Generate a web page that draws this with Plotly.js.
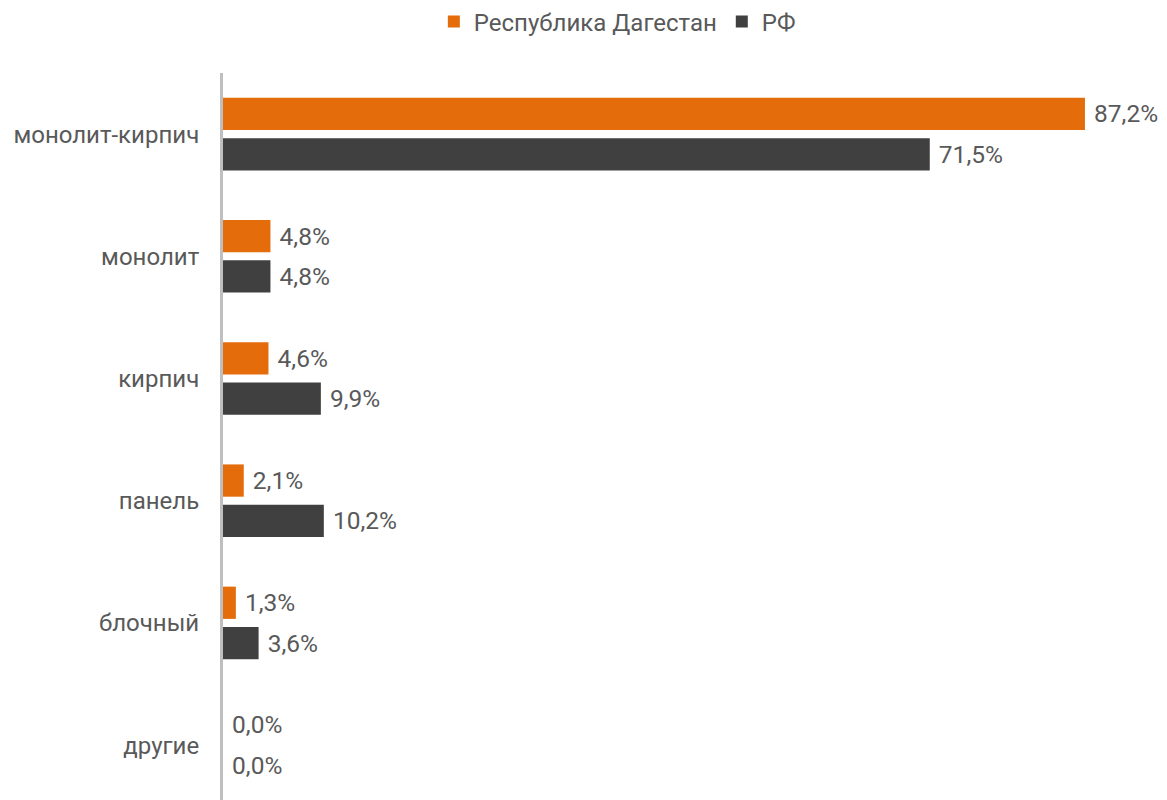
<!DOCTYPE html>
<html>
<head>
<meta charset="utf-8">
<script src="https://cdn.plot.ly/plotly-3.0.1.min.js"></script>
<style>html,body{margin:0;padding:0;background:#fff;}#chart{width:1167px;height:800px;}</style>
</head>
<body>
<div id="chart"></div>
<script>
const categories = ["монолит-кирпич", "монолит", "кирпич", "панель", "блочный", "другие"];
const seriesNames = ["Республика Дагестан", "РФ"];
const dagestan = [87.2, 4.8, 4.6, 2.1, 1.3, 0.0];
const rf = [71.5, 4.8, 9.9, 10.2, 3.6, 0.0];
const colors = ["#E46C0A", "#404040"];

const fmt = v => "\u00A0" + v.toFixed(1).replace(".", ",") + "%";

function makeTrace(name, vals, color) {
  return {
    type: "bar",
    orientation: "h",
    name: name,
    y: categories,
    x: vals,
    marker: {color: color},
    text: vals.map(fmt),
    textposition: "outside",
    constraintext: "none",
    cliponaxis: false,
    textfont: {family: "Roboto", size: 24.5, color: "#595959"},
    hoverinfo: "skip"
  };
}

const data = [
  makeTrace(seriesNames[0], dagestan, colors[0]),
  makeTrace(seriesNames[1], rf, colors[1])
];

const layout = {
  width: 1167,
  height: 800,
  margin: {l: 223, r: 17, t: 73, b: 0},
  paper_bgcolor: "#fff",
  plot_bgcolor: "#fff",
  font: {family: "Roboto", size: 24, color: "#595959"},
  barmode: "group",
  bargap: 0.34,
  bargroupgap: 0.2,
  showlegend: true,
  legend: {
    orientation: "h",
    xref: "container",
    yref: "container",
    x: 0.529,
    xanchor: "center",
    y: 1 - 22 / 800,
    yanchor: "middle",
    font: {family: "Roboto", size: 24, color: "#595959"},
    itemwidth: 30,
    traceorder: "normal"
  },
  xaxis: {
    range: [0, 93.78],
    showgrid: false,
    zeroline: false,
    showticklabels: false,
    showline: false,
    ticks: ""
  },
  yaxis: {
    type: "category",
    range: [5.449, -0.5],
    showgrid: false,
    zeroline: false,
    showline: true,
    linecolor: "#BFBFBF",
    linewidth: 3,
    ticks: "outside",
    ticklen: 0,
    ticklabelstandoff: 16,
    tickfont: {family: "Roboto", size: 24, color: "#595959"}
  }
};

Plotly.newPlot("chart", data, layout, {displayModeBar: false, staticPlot: true});
</script>
</body>
</html>
